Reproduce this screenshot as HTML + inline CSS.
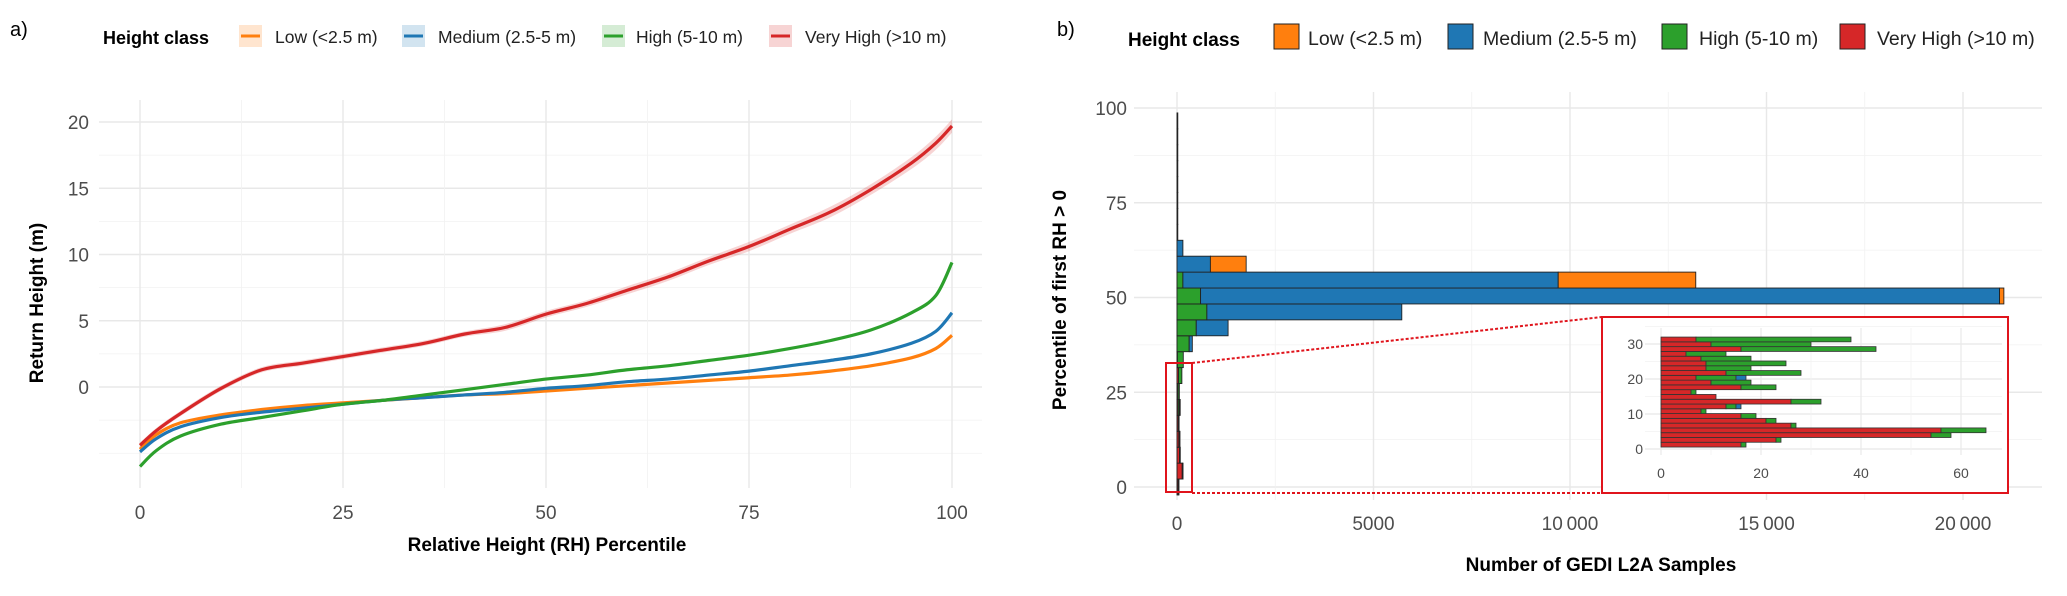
<!DOCTYPE html>
<html><head><meta charset="utf-8"><style>
html,body{margin:0;padding:0;background:#fff;}
svg{display:block;font-family:"Liberation Sans",Arial,sans-serif;}
</style></head><body>
<svg id="fig" width="2067" height="596" viewBox="0 0 2067 596" xmlns="http://www.w3.org/2000/svg">
<rect width="2067" height="596" fill="#fff"/>
<g id="gridA"></g><g id="gridB"></g>
<g id="ribbon"></g><g id="lines"></g>
<g id="bars"></g>
<g id="inset"></g>
<g id="texts"></g>
</svg>
<script>
// ---------- panel a data ----------
const pct = [0,2,5,10,15,20,25,30,35,40,45,50,55,60,65,70,75,80,85,90,95,98,100];
const lowVals  = [-4.7,-3.6,-2.7,-2.1,-1.7,-1.4,-1.2,-1.0,-0.8,-0.6,-0.5,-0.3,-0.1,0.1,0.3,0.5,0.7,0.9,1.2,1.6,2.2,2.9,3.9];
const medVals  = [-4.9,-3.9,-3.0,-2.3,-1.9,-1.6,-1.3,-1.0,-0.8,-0.6,-0.4,-0.1,0.1,0.4,0.6,0.9,1.2,1.6,2.0,2.5,3.3,4.2,5.6];
const highVals = [-6.0,-4.8,-3.7,-2.8,-2.3,-1.8,-1.3,-1.0,-0.6,-0.2,0.2,0.6,0.9,1.3,1.6,2.0,2.4,2.9,3.5,4.3,5.6,6.9,9.4];
const vhVals   = [-4.4,-3.3,-2.0,-0.1,1.3,1.8,2.3,2.8,3.3,4.0,4.5,5.5,6.3,7.3,8.3,9.5,10.6,11.9,13.2,14.9,16.9,18.4,19.7];
const vhSpread = [0.2,0.2,0.2,0.2,0.2,0.2,0.2,0.2,0.2,0.2,0.25,0.25,0.25,0.3,0.3,0.3,0.35,0.35,0.4,0.4,0.45,0.5,0.5];
const yTicksA = [0,5,10,15,20];
const xTicksA = [0,25,50,75,100];
// ---------- panel b data ----------
const binCenters = [0,4.2,8.4,12.6,16.8,21,25.2,29.4,33.6,37.8,42,46.2,50.4,54.6,58.8,63,67.2,71.4,75.6,79.8,84,88.2,92.4,96.6];
const redCounts   = [30,133,63,47,33,30,26,38,10,0,0,0,0,0,0,0,0,0,0,0,0,0,0,0];
const greenCounts = [1,14,6,8,8,31,34,86,150,310,490,760,600,150,0,0,0,0,0,0,0,0,0,0];
const blueCounts  = [0,0,0,1,0,2,0,0,0,80,810,4960,20330,9550,850,150,15,8,6,5,4,3,3,2];
const orangeCounts= [0,0,0,0,0,0,0,0,0,0,0,0,110,3500,910,0,0,0,0,0,0,0,0,0];
const xTicksB = [0,5000,10000,15000,20000];
const xTickLabelsB = ["0","5000","10\u2009000","15\u2009000","20\u2009000"];
const yTicksB = [0,25,50,75,100];
// ---------- inset data ----------
const insetCenters = [1.24,2.61,3.97,5.34,6.7,8.07,9.44,10.8,12.17,13.53,14.9,16.27,17.63,19.0,20.36,21.73,23.1,24.46,25.83,27.19,28.56,29.93,31.3];
const insetRed   = [16,23,54,56,26,21,16,8,13,26,11,6,16,10,7,13,9,9,8,5,16,10,7];
const insetGreen = [1,1,4,9,1,2,3,1,2,6,0,1,7,8,8,15,9,16,10,8,27,20,31];
const insetBlue  = [0,0,0,0,0,0,0,0,1,0,0,0,0,0,2,0,0,0,0,0,0,0,0];
const insetXTicks = [0,20,40,60];
const insetYTicks = [0,10,20,30];

const NS="http://www.w3.org/2000/svg";
function mk(tag,parent,attrs){const e=document.createElementNS(NS,tag);for(const k in attrs)e.setAttribute(k,attrs[k]);parent.appendChild(e);return e;}
const C={low:"#ff7f0e",med:"#1f77b4",high:"#2ca02c",vh:"#d62728"};

// ===== Panel A =====
const axA={x0:99,x1:982,y0:100,y1:488};
const xA=p=>140+8.12*p, yA=v=>387-13.25*v;
const gA=document.getElementById('gridA');
for(let v=-5;v<=20;v+=2.5){const maj=v%5===0&&v>=0;const l=mk('line',gA,{x1:axA.x0,x2:axA.x1,y1:yA(v),y2:yA(v),stroke:maj?"#e8e8e8":"#f2f2f2","stroke-width":maj?1.4:0.8});
}
for(let p=0;p<=100;p+=12.5){const maj=p%25===0;const l=mk('line',gA,{x1:xA(p),x2:xA(p),y1:axA.y0,y2:axA.y1,stroke:maj?"#e8e8e8":"#f2f2f2","stroke-width":maj?1.4:0.8});
}
function smooth(pts){let d=`M${pts[0][0]},${pts[0][1]}`;for(let i=0;i<pts.length-1;i++){const p0=pts[Math.max(0,i-1)],p1=pts[i],p2=pts[i+1],p3=pts[Math.min(pts.length-1,i+2)];
const c1=[p1[0]+(p2[0]-p0[0])/6,p1[1]+(p2[1]-p0[1])/6],c2=[p2[0]-(p3[0]-p1[0])/6,p2[1]-(p3[1]-p1[1])/6];d+=` C${c1[0]},${c1[1]} ${c2[0]},${c2[1]} ${p2[0]},${p2[1]}`;}return d;}
const up=pct.map((p,i)=>[xA(p),yA(vhVals[i]+vhSpread[i])]);
const dn=pct.map((p,i)=>[xA(p),yA(vhVals[i]-vhSpread[i])]).reverse();
const rib=mk('path',document.getElementById('ribbon'),{d:smooth(up)+" L"+smooth(dn).slice(1)+" Z",fill:"#d62728","fill-opacity":0.2,stroke:"none"});

const gL=document.getElementById('lines');
[[lowVals,C.low,'low-line'],[medVals,C.med,'medium-line'],[highVals,C.high,'high-line'],[vhVals,C.vh,'very-high-line']].forEach(([vals,col,nm])=>{
const l=mk('path',gL,{d:smooth(pct.map((p,i)=>[xA(p),yA(vals[i])])),fill:"none",stroke:col,"stroke-width":3.2,"stroke-linejoin":"round"});
});

// ===== Panel B =====
const axB={x0:1134,x1:2042,y0:92,y1:500};
const xB=n=>1177+0.0393*n, yB=p=>487-3.79*p;
const gB=document.getElementById('gridB');
for(let p=0;p<=100;p+=12.5){const maj=p%25===0;const l=mk('line',gB,{x1:axB.x0,x2:axB.x1,y1:yB(p),y2:yB(p),stroke:maj?"#e8e8e8":"#f2f2f2","stroke-width":maj?1.4:0.8});
}
for(let n=0;n<=20000;n+=2500){const maj=n%5000===0;const l=mk('line',gB,{x1:xB(n),x2:xB(n),y1:axB.y0,y2:axB.y1,stroke:maj?"#e8e8e8":"#f2f2f2","stroke-width":maj?1.4:0.8});
}
const gBars=document.getElementById('bars');
const bw=4.2;
binCenters.forEach((c,i)=>{let acc=0;
[[redCounts,C.vh,'bar-very-high'],[greenCounts,C.high,'bar-high'],[blueCounts,C.med,'bar-medium'],[orangeCounts,C.low,'bar-low']].forEach(([arr,col,nm])=>{
const v=arr[i];if(v<=0)return;const r=mk('rect',gBars,{x:xB(acc),y:yB(c+bw/2),width:Math.max(0.8,xB(acc+v)-xB(acc)),height:yB(c-bw/2)-yB(c+bw/2),fill:col,stroke:"#222","stroke-width":0.9});
acc+=v;});});
const zr=mk('rect',gBars,{x:1166,y:363,width:26,height:129,fill:"none",stroke:"#e0141c","stroke-width":2});

const c1=mk('line',gBars,{x1:1192,y1:363,x2:1602,y2:317,stroke:"#e0141c","stroke-width":2,"stroke-dasharray":"3,2"});

const c2=mk('line',gBars,{x1:1192,y1:493,x2:1602,y2:493,stroke:"#e0141c","stroke-width":2,"stroke-dasharray":"3,2"});


// ===== Inset =====
const gI=document.getElementById('inset');
const ib=mk('rect',gI,{x:1602,y:317,width:406,height:176,fill:"#fff",stroke:"#e0141c","stroke-width":2});

const xI=n=>1661+5*n, yI=p=>449-3.5*p;
for(let p=0;p<=35;p+=5){const maj=p%10===0;const l=mk('line',gI,{x1:1645,x2:2002,y1:yI(p),y2:yI(p),stroke:maj?"#e8e8e8":"#f2f2f2","stroke-width":maj?1.2:0.7});
}
for(let n=0;n<=65;n+=10){const maj=n%20===0;const l=mk('line',gI,{x1:xI(n),x2:xI(n),y1:328,y2:455,stroke:maj?"#e8e8e8":"#f2f2f2","stroke-width":maj?1.2:0.7});
}
const ibw=1.366;
insetCenters.forEach((c,i)=>{let acc=0;
[[insetRed,C.vh,'inset-bar-very-high'],[insetGreen,C.high,'inset-bar-high'],[insetBlue,C.med,'inset-bar-medium']].forEach(([arr,col,nm])=>{
const v=arr[i];if(v<=0)return;const r=mk('rect',gI,{x:xI(acc),y:yI(c+ibw/2),width:xI(acc+v)-xI(acc),height:yI(c-ibw/2)-yI(c+ibw/2),fill:col,stroke:"#333","stroke-width":0.8});
acc+=v;});});
insetXTicks.forEach(t=>{const e=mk('text',gI,{x:xI(t),y:478,"text-anchor":"middle","font-size":14,fill:"#4d4d4d"});e.textContent=t;
});
insetYTicks.forEach(t=>{const e=mk('text',gI,{x:1643,y:yI(t)+5,"text-anchor":"end","font-size":14,fill:"#4d4d4d"});e.textContent=t;
});

// ===== Texts =====
const T=document.getElementById('texts');
function txt(s,x,y,o,nm){const e=mk('text',T,Object.assign({x:x,y:y},o));e.textContent=s;return e;}
yTicksA.forEach(t=>txt(String(t),89,yA(t)+7,{"text-anchor":"end","font-size":19,fill:"#4d4d4d"},'y-tick-label-a'));
xTicksA.forEach(t=>txt(String(t),xA(t),519,{"text-anchor":"middle","font-size":19,fill:"#4d4d4d"},'x-tick-label-a'));
txt("Relative Height (RH) Percentile",547,551,{"text-anchor":"middle","font-size":19,"font-weight":"bold"},'x-axis-title-a');
txt("Return Height (m)",0,0,{"text-anchor":"middle","font-size":19,"font-weight":"bold",transform:"translate(43,303) rotate(-90)"},'y-axis-title-a');
yTicksB.forEach(t=>txt(String(t),1127,yB(t)+7,{"text-anchor":"end","font-size":19,fill:"#4d4d4d"},'y-tick-label-b'));
xTicksB.forEach((t,i)=>txt(xTickLabelsB[i],xB(t),530,{"text-anchor":"middle","font-size":19,fill:"#4d4d4d"},'x-tick-label-b'));
txt("Number of GEDI L2A Samples",1601,571,{"text-anchor":"middle","font-size":19,"font-weight":"bold"},'x-axis-title-b');
txt("Percentile of first RH > 0",0,0,{"text-anchor":"middle","font-size":19,"font-weight":"bold",transform:"translate(1066,300) rotate(-90)"},'y-axis-title-b');
txt("a)",10,36,{"font-size":20},'panel-label-a');
txt("b)",1057,36,{"font-size":20},'panel-label-b');
// legend a
txt("Height class",103,44,{"font-size":18,"font-weight":"bold"},'legend-title-a');
[[239,275,C.low,"Low (<2.5 m)"],[402,438,C.med,"Medium (2.5-5 m)"],[602,636,C.high,"High (5-10 m)"],[769,805,C.vh,"Very High (>10 m)"]].forEach(([kx,tx,col,s])=>{
const b=mk('rect',T,{x:kx,y:25,width:23,height:22,fill:col,"fill-opacity":0.2});
const l=mk('line',T,{x1:kx+2,x2:kx+21,y1:36,y2:36,stroke:col,"stroke-width":3});
txt(s,tx,43,{"font-size":17.5,fill:"#222"},'legend-entry-a');});
// legend b
txt("Height class",1128,46,{"font-size":19,"font-weight":"bold"},'legend-title-b');
[[1274,1308,C.low,"Low (<2.5 m)"],[1448,1483,C.med,"Medium (2.5-5 m)"],[1662,1699,C.high,"High (5-10 m)"],[1840,1877,C.vh,"Very High (>10 m)"]].forEach(([kx,tx,col,s])=>{
const b=mk('rect',T,{x:kx,y:24,width:25,height:25,fill:col,stroke:"#222","stroke-width":1});
txt(s,tx,45,{"font-size":19.5,fill:"#222"},'legend-entry-b');});
</script>
</body></html>
